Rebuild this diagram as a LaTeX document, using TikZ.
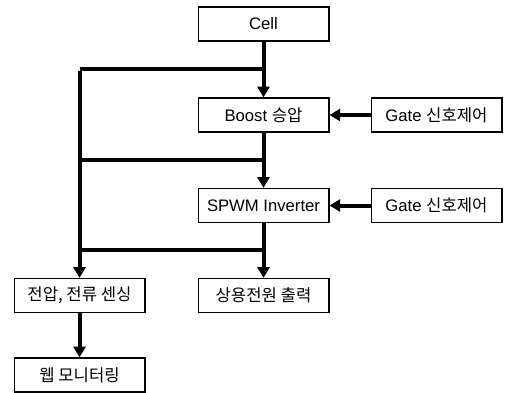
\documentclass[tikz,border=0pt]{standalone}
\usepackage{fontspec}
\setmainfont{Liberation Sans}
\newfontfamily\kr{Noto Sans CJK KR}
\usetikzlibrary{arrows.meta}

\begin{document}
\begin{tikzpicture}[x=0.75pt,y=-0.75pt]
\useasboundingbox (0,0) rectangle (505,392);
\begin{scope}[every node/.style={rectangle,draw=black,line width=1pt,minimum width=98pt,minimum height=25.5pt,fill=white,font=\fontsize{12.5}{14}\selectfont}]
    \node (cell) at (263.5, 24) {Cell};

    \node (boost) at (263.5, 115) {Boost {\kr 승압}};
    \node (gate1) at (436.5, 115) {Gate {\kr 신호제어}};

    \node (spwm) at (263.5, 205.5) {SPWM Inverter};
    \node (gate2) at (436.5, 205.5) {Gate {\kr 신호제어}};

    \node (sense) at (79.5, 295.5) {\kr 전압, 전류 센싱};
    \node (out) at (263.5, 295.5) {\kr 상용전원 출력};

    \node (web) at (79.5, 375) {\kr 웹 모니터링};
\end{scope}

\coordinate (j1) at (263.5, 69);
\coordinate (j2) at (263.5, 160);
\coordinate (j3) at (263.5, 250);
\coordinate (l1) at (79.5, 69);
\coordinate (l2) at (79.5, 160);
\coordinate (l3) at (79.5, 250);

\begin{scope}[>={Triangle[width=9pt,length=8pt]},
              every path/.style={line width=3pt}]
    \draw [->] (cell) -- (boost);
    \draw [->] (gate1) -- (boost);

    \draw [->] (boost) -- (spwm);
    \draw [->] (gate2) -- (spwm);

    \draw [->] (spwm) -- (out);

    \draw (j1) -- (l1);
    \draw (j2) -- (l2);
    \draw (j3) -- (l3);
    \draw [->] ([yshift=-1.5pt]l1) -- (sense);

    \draw [->] (sense) -- (web);
\end{scope}
\end{tikzpicture}
\end{document}
